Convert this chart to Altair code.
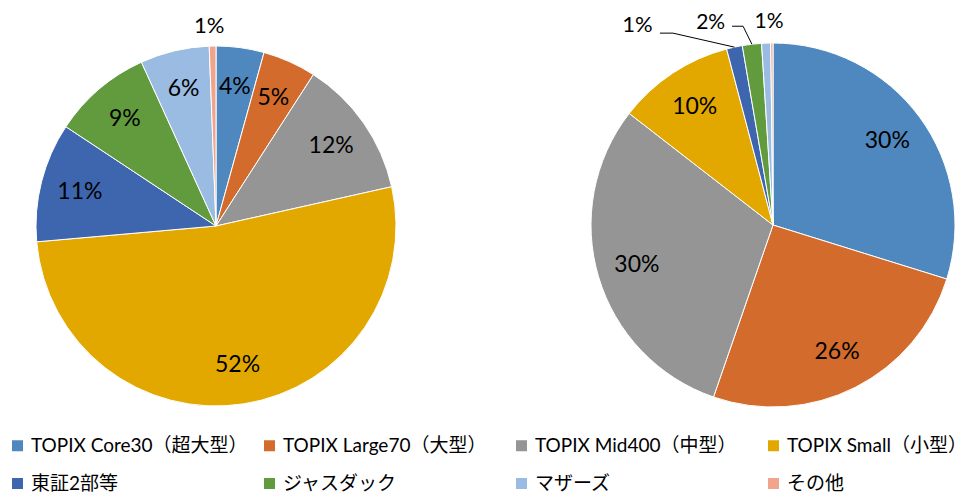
import math
import altair as alt
import pandas as pd

categories = ["TOPIX Core30（超大型）", "TOPIX Large70（大型）", "TOPIX Mid400（中型）",
              "TOPIX Small（小型）", "東証2部等", "ジャスダック", "マザーズ", "その他"]
colors = ["#4F88BE", "#D26B2B", "#959595", "#E2A800", "#3E66AF", "#629B3E", "#9BBCE2", "#F0A48C"]
left_values = [4.3, 4.8, 12.4, 52.1, 10.7, 8.9, 6.2, 0.6]
right_values = [29.8, 25.5, 30.2, 10.4, 1.4, 1.7, 0.8, 0.2]

W, H = 962, 468
FONT = "Lato, Noto Sans CJK JP, sans-serif"
LEFT_C, LEFT_R = (208, 210), 180
RIGHT_C, RIGHT_R = (765, 209), 182


def pie_frame(values):
    rows, cum = [], 0.0
    for i, (c, v) in enumerate(zip(categories, values)):
        rows.append(dict(cat=c, value=v, start=cum, end=cum + v, mid=cum + v / 2,
                         label=f"{round(v)}%", inside=v >= 3, idx=i))
        cum += v
    return pd.DataFrame(rows)


left_df = pie_frame(left_values)
right_df = pie_frame(right_values)

theta_scale = alt.Scale(domain=[0, 100], range=[0, 2 * math.pi])
color_enc = alt.Color("cat:N", scale=alt.Scale(domain=categories, range=colors),
                      legend=alt.Legend(title=None, orient="none", legendX=0, legendY=420,
                                        direction="horizontal",
                                        columns=4, gridAlign="all", columnPadding=12,
                                        rowPadding=18, symbolType="square", symbolSize=121,
                                        symbolStrokeWidth=0, labelOffset=4, labelFont=FONT,
                                        labelFontSize=19, labelColor="black", labelLimit=400,
                                        padding=0))


def pie_layers(df, center, r):
    cx, cy = center
    arc = alt.Chart(df).mark_arc(outerRadius=r, stroke="white", strokeWidth=1).encode(
        x=alt.value(cx), y=alt.value(cy),
        theta=alt.Theta("start:Q", scale=theta_scale), theta2="end:Q",
        color=color_enc, order="idx:Q")
    txt = alt.Chart(df).transform_filter("datum.inside").mark_text(
        radius=r * 0.78, fontSize=23, font=FONT, color="black").encode(
        x=alt.value(cx), y=alt.value(cy),
        theta=alt.Theta("mid:Q", scale=theta_scale), text="label:N")
    return arc, txt


l_arc, l_txt = pie_layers(left_df, LEFT_C, LEFT_R)
r_arc, r_txt = pie_layers(right_df, RIGHT_C, RIGHT_R)


def outside(df, center, cat, radius, dx, dy, size=22):
    cx, cy = center
    return alt.Chart(df).transform_filter(alt.datum.cat == cat).mark_text(
        radius=radius, dx=dx, dy=dy, fontSize=size, font=FONT, color="black").encode(
        x=alt.value(cx), y=alt.value(cy),
        theta=alt.Theta("mid:Q", scale=theta_scale), text="label:N")


l_other = outside(left_df, LEFT_C, "その他", 200, -3, 0)
r_2bu = outside(right_df, RIGHT_C, "東証2部等", 205, -92, 0)
r_jq = outside(right_df, RIGHT_C, "ジャスダック", 210, -38, 7, 21)
r_mz = outside(right_df, RIGHT_C, "マザーズ", 210, 4, 7, 21)

# leader lines: from label to slice edge (edge point computed from slice mid angle)
leader_offsets = {"東証2部等": [(-74.5, -14), (-61.5, -14)],
                  "ジャスダック": [(-19.8, -18), (-8.8, -18)]}
lrows = []
for cat, offs in leader_offsets.items():
    m = right_df.loc[right_df.cat == cat, "mid"].iloc[0] / 100 * 2 * math.pi
    ex = RIGHT_C[0] + RIGHT_R * math.sin(m)
    ey = RIGHT_C[1] - RIGHT_R * math.cos(m)
    pts = [(ex + ox, ey + oy) for ox, oy in offs] + [(ex, ey)]
    for k, (px, py) in enumerate(pts):
        lrows.append(dict(cat=cat, px=px, py=py, k=k))
leader_df = pd.DataFrame(lrows)

leaders = alt.Chart(leader_df).mark_line(color="black", strokeWidth=1).encode(
    x=alt.X("px:Q", scale=alt.Scale(domain=[0, W], nice=False, zero=False), axis=None),
    y=alt.Y("py:Q", scale=alt.Scale(domain=[0, H], nice=False, zero=False, reverse=True), axis=None),
    detail="cat:N", order="k:Q")

chart = alt.layer(l_arc, r_arc, l_txt, r_txt, l_other, r_2bu, r_jq, r_mz, leaders).properties(
    width=W, height=H, autosize="none",
    padding={"left": 0, "top": 8, "right": 0, "bottom": 8}
).configure_view(stroke=None)

chart.save("out.html", embed_options={"renderer": "svg", "actions": False})
